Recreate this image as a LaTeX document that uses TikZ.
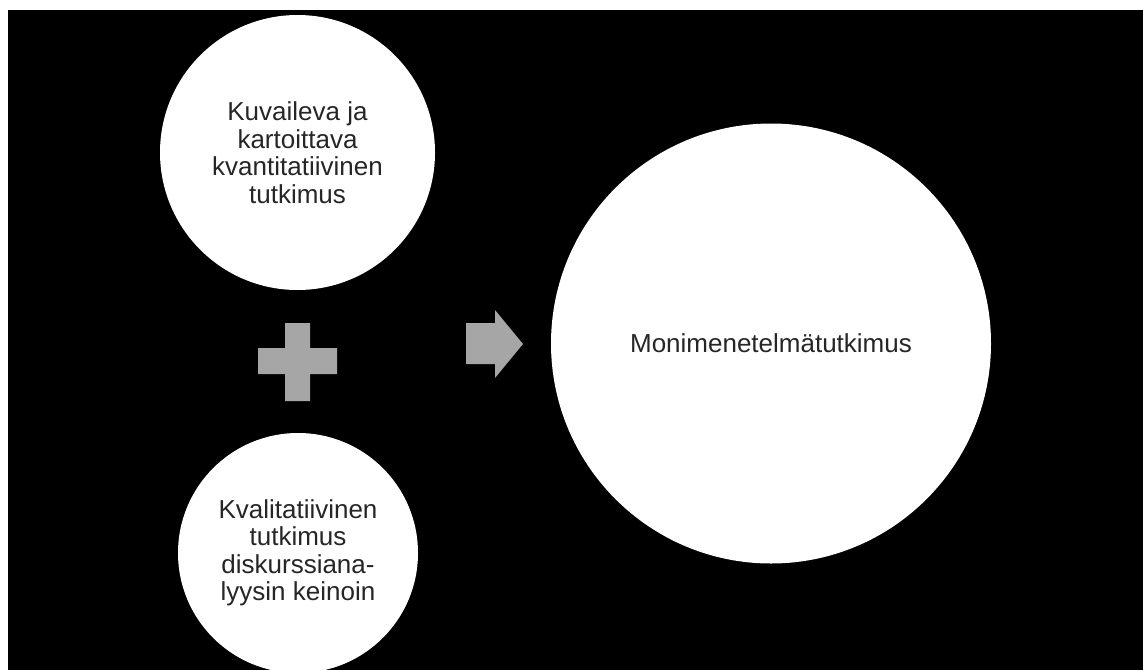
\documentclass[tikz,border=0pt]{standalone}
\usepackage{fontspec}
\setmainfont{Liberation Sans}
\begin{document}
\begin{tikzpicture}[x=1pt,y=-1pt,
  ympyra/.style={circle,fill=white,inner sep=0pt,align=center,text=black!85,
    font=\fontsize{26}{27.5}\selectfont},
  harmaa/.style={fill=gray!70}]
\useasboundingbox (0,0) rectangle (1143,670);
\fill[white] (0,0) rectangle (1143,670);
\fill[black] (8,10) rectangle (1143,670);
\node[ympyra,minimum size=275pt] (kvanti) at (297.5,152.5) {Kuvaileva ja\\kartoittava\\kvantitatiivinen\\tutkimus};
\node[ympyra,minimum size=240pt] (kvali) at (298,553) {Kvalitatiivinen\\tutkimus\\diskurssiana-\\lyysin keinoin};
\node[ympyra,minimum size=440pt] (moni) at (771,343.5) {Monimenetelmätutkimus};
% plus
\fill[harmaa] (285,323) -- (310,323) -- (310,348) -- (337,348) -- (337,374) -- (310,374)
  -- (310,401) -- (285,401) -- (285,374) -- (258,374) -- (258,348) -- (285,348) -- cycle;
% nuoli
\fill[harmaa] (466,323) -- (495,323) -- (495,310) -- (523,344) -- (495,378) -- (495,364)
  -- (466,364) -- cycle;
\end{tikzpicture}
\end{document}
